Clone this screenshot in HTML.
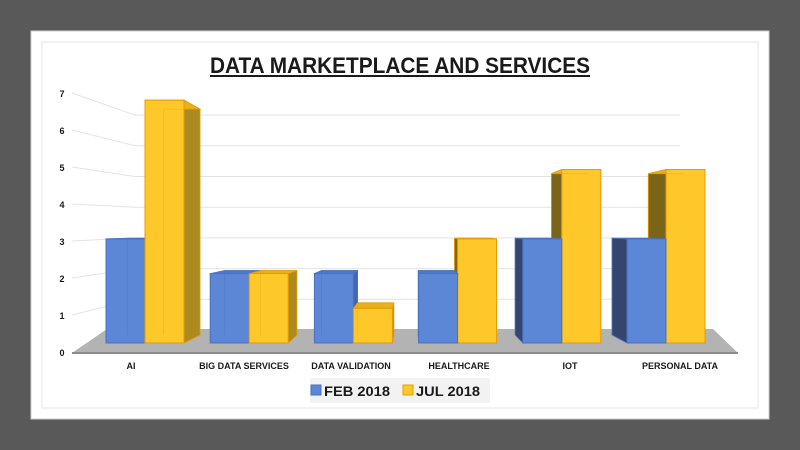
<!DOCTYPE html>
<html><head><meta charset="utf-8">
<style>
html,body{margin:0;padding:0;background:#595959;width:800px;height:450px;overflow:hidden}
svg{display:block}
text{font-family:"Liberation Sans",sans-serif;font-weight:bold;fill:#1a1a1a}
</style></head>
<body>
<svg id="chart" width="800" height="450">
  <rect x="31" y="31" width="738" height="388" fill="#ffffff" stroke="#cfcfcf"/>
  <rect x="42" y="42" width="716" height="366" fill="none" stroke="#e6e6e6"/>
  <text x="400" y="73" text-anchor="middle" font-size="22" textLength="380" lengthAdjust="spacingAndGlyphs">DATA MARKETPLACE AND SERVICES</text>
  <line x1="210" y1="76" x2="590" y2="76" stroke="#1a1a1a" stroke-width="2"/>
  <g id="grid"></g>
  <g id="floor"></g>
  <g id="bars"></g>
  <g id="labels"></g>
  <rect x="310" y="378" width="180" height="25" fill="#f2f2f2"/>
  <rect x="311" y="385" width="10" height="10" fill="#5b87d6" stroke="#4a72c0"/>
  <text x="324" y="396" font-size="14" textLength="66" lengthAdjust="spacingAndGlyphs">FEB 2018</text>
  <rect x="403" y="385" width="10" height="10" fill="#ffc82a" stroke="#e8a000"/>
  <text x="416" y="396" font-size="14" textLength="64" lengthAdjust="spacingAndGlyphs">JUL 2018</text>
</svg>
<script>
const categories = ["AI","BIG DATA SERVICES","DATA VALIDATION","HEALTHCARE","IOT","PERSONAL DATA"];
const febValues = [3,2,2,2,3,3];
const julValues = [7,2,1,3,5,5];
const yTicks = [0,1,2,3,4,5,6,7];

const NS="http://www.w3.org/2000/svg";
function mk(tag,attrs,parent){const e=document.createElementNS(NS,tag);for(const k in attrs)e.setAttribute(k,attrs[k]);parent.appendChild(e);return e;}
const grid=document.getElementById('grid'),floor=document.getElementById('floor'),bars=document.getElementById('bars'),labels=document.getElementById('labels');

// axis functions
const frontBase=343, frontScale=34.7;
const backBase=330, backScale=30.7;
const labelY0=352, labelStep=37;
const yFront=v=>frontBase-v*frontScale;
const yBack=v=>backBase-v*backScale;
const yLabel=v=>labelY0-v*labelStep;
const catX=i=>145+i*104.2;
const barW=39;
const vpx=413, vpy=229, s=0.93;
const bx=x=>vpx+s*(x-vpx), by=y=>vpy+s*(y-vpy);

yTicks.forEach(v=>{
  const t=mk('text',{x:62,y:yLabel(v)+4,'font-size':9,'text-anchor':'middle'},labels);
  t.textContent=v;
  
  
  if(v>0){
    const l=mk('polyline',{points:`72,${yLabel(v)} 135,${yBack(v)} 680,${yBack(v)}`,fill:'none',stroke:'#e3e3e3','stroke-width':1},grid);
    
    
  }
});

const fl=mk('polygon',{points:`72,353 107,329 713,329 738,353`,fill:'#b3b3b3'},floor);


const fe=mk('line',{x1:72,y1:353,x2:738,y2:353,stroke:'#8c8c8c','stroke-width':2},floor);



function drawBar(x0,v,col,name){
  const g=mk('g',{},bars);
  
  
  const x1=x0+barW, yt=yFront(v), yb=frontBase;
  const rightSide=(x0+barW/2)<vpx;
  const sx=rightSide?x1:x0;
  // side face
  mk('polygon',{points:`${sx},${yb} ${bx(sx)},${by(yb)} ${bx(sx)},${by(yt)} ${sx},${yt}`,fill:rightSide?col.side:col.lside,stroke:col.edge,'stroke-width':0.8},g);
  // top face
  mk('polygon',{points:`${x0},${yt} ${x1},${yt} ${bx(x1)},${by(yt)} ${bx(x0)},${by(yt)}`,fill:col.top,stroke:col.edge,'stroke-width':0.8},g);
  // front
  mk('rect',{x:x0,y:yt,width:barW,height:yb-yt,fill:col.front,stroke:col.edge,'stroke-width':1},g);
  // faint back edges seen through translucent face
  mk('polyline',{points:`${bx(x0)},${by(yb)} ${bx(x0)},${by(yt)} ${bx(x1)},${by(yt)}`,fill:'none',stroke:col.edge,'stroke-width':0.6,'stroke-opacity':0.5},g);
}
const blue={front:'#5b87d6',side:'#4468b0',lside:'#34466e',top:'#4f78c6',edge:'#4a72c0'};
const yellow={front:'#ffc82a',side:'#ac8a1f',lside:'#7a6418',top:'#e6b020',edge:'#e89a00'};

const labelXs=[131,244,351,459,570,680];
categories.forEach((c,i)=>{
  const cx=catX(i);
  const left=cx<vpx;
  const drawFeb=()=>drawBar(cx-barW,febValues[i],blue,'bar-feb-'+i);
  const drawJul=()=>drawBar(cx,julValues[i],yellow,'bar-jul-'+i);
  if(left){drawFeb();drawJul();}else{drawJul();drawFeb();}
  const t=mk('text',{x:labelXs[i],y:369,'font-size':9,'text-anchor':'middle'},labels);
  t.textContent=c;
  
  
});
</script>
</body></html>
